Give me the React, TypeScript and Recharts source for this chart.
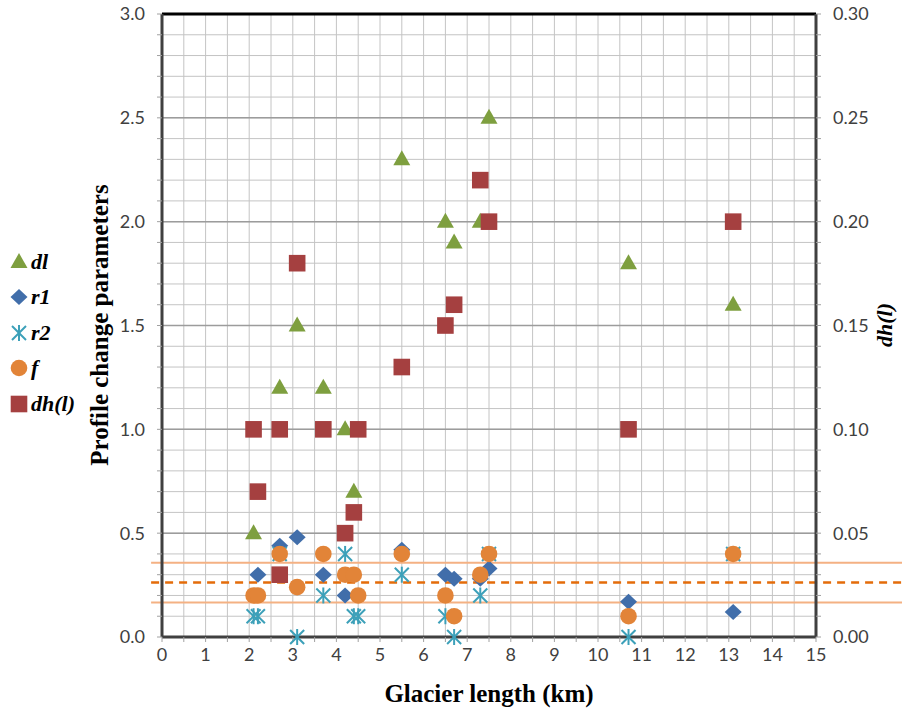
import React from 'react';
import {
  ScatterChart,
  Scatter,
  XAxis,
  YAxis,
  CartesianGrid,
  ReferenceLine
} from 'recharts';

// glacier lengths (km) and values per parameter
const dlLength = [2.1, 2.7, 3.1, 3.7, 4.2, 4.4, 5.5, 6.5, 6.7, 7.3, 7.5, 10.7, 13.1];
const dlValue = [0.5, 1.2, 1.5, 1.2, 1.0, 0.7, 2.3, 2.0, 1.9, 2.0, 2.5, 1.8, 1.6];

const r1Length = [2.2, 2.7, 3.1, 3.7, 4.2, 5.5, 6.5, 6.7, 7.3, 7.5, 10.7, 13.1];
const r1Value = [0.3, 0.44, 0.48, 0.3, 0.2, 0.42, 0.3, 0.28, 0.28, 0.33, 0.17, 0.12];

const r2Length = [2.1, 2.2, 2.7, 3.1, 3.7, 4.2, 4.4, 4.5, 5.5, 6.5, 6.7, 7.3, 7.5, 10.7, 13.1];
const r2Value = [0.1, 0.1, 0.4, 0.0, 0.2, 0.4, 0.1, 0.1, 0.3, 0.1, 0.0, 0.2, 0.4, 0.0, 0.4];

const fLength = [2.1, 2.2, 2.7, 3.1, 3.7, 4.2, 4.4, 4.5, 5.5, 6.5, 6.7, 7.3, 7.5, 10.7, 13.1];
const fValue = [0.2, 0.2, 0.4, 0.24, 0.4, 0.3, 0.3, 0.2, 0.4, 0.2, 0.1, 0.3, 0.4, 0.1, 0.4];

const dhLength = [2.1, 2.2, 2.7, 2.7, 3.1, 3.7, 4.2, 4.4, 4.5, 5.5, 6.5, 6.7, 7.3, 7.5, 10.7, 13.1];
const dhValue = [0.1, 0.07, 0.1, 0.03, 0.18, 0.1, 0.05, 0.06, 0.1, 0.13, 0.15, 0.16, 0.22, 0.2, 0.1, 0.2];

// f mean and +/- band
const fMean = 0.263;
const fBand = [0.166, 0.358];

// ticks
const xTicks = [0, 0.5, 1, 1.5, 2, 2.5, 3, 3.5, 4, 4.5, 5, 5.5, 6, 6.5, 7, 7.5, 8, 8.5, 9, 9.5, 10, 10.5, 11, 11.5, 12, 12.5, 13, 13.5, 14, 14.5, 15];
const leftTicks = [0, 0.1, 0.2, 0.3, 0.4, 0.5, 0.6, 0.7, 0.8, 0.9, 1, 1.1, 1.2, 1.3, 1.4, 1.5, 1.6, 1.7, 1.8, 1.9, 2, 2.1, 2.2, 2.3, 2.4, 2.5, 2.6, 2.7, 2.8, 2.9, 3];
const rightTicks = [0, 0.01, 0.02, 0.03, 0.04, 0.05, 0.06, 0.07, 0.08, 0.09, 0.1, 0.11, 0.12, 0.13, 0.14, 0.15, 0.16, 0.17, 0.18, 0.19, 0.2, 0.21, 0.22, 0.23, 0.24, 0.25, 0.26, 0.27, 0.28, 0.29, 0.3];
const majorLines = [0.5, 1, 1.5, 2, 2.5];

const toPoints = (xs: number[], ys: number[]) => xs.map((x, i) => ({ x, y: ys[i] }));

const colors = {
  dl: '#7e9f3f',
  r1: '#416eaa',
  r2: '#3ca0b9',
  f: '#e28438',
  dh: '#a54040',
  band: '#f4b183',
  mean: '#e46c0a'
};

const tickStyle = { fill: '#404040', fontSize: 18, fontFamily: 'Lato' };

// markers
const Triangle = ({ cx, cy }: any) => (
  <polygon points={`${cx},${cy - 9} ${cx + 8.5},${cy + 6} ${cx - 8.5},${cy + 6}`} fill={colors.dl} />
);
const Diamond = ({ cx, cy }: any) => (
  <polygon points={`${cx},${cy - 8} ${cx + 8.5},${cy} ${cx},${cy + 8} ${cx - 8.5},${cy}`} fill={colors.r1} />
);
const Asterisk = ({ cx, cy }: any) => (
  <g stroke={colors.r2} strokeWidth={2}>
    <line x1={cx} y1={cy - 8} x2={cx} y2={cy + 8} />
    <line x1={cx - 7} y1={cy - 7} x2={cx + 7} y2={cy + 7} />
    <line x1={cx - 7} y1={cy + 7} x2={cx + 7} y2={cy - 7} />
  </g>
);
const Circle = ({ cx, cy }: any) => <circle cx={cx} cy={cy} r={8.3} fill={colors.f} />;
const Square = ({ cx, cy }: any) => (
  <rect x={cx - 8.3} y={cy - 8.3} width={16.6} height={16.6} fill={colors.dh} />
);

const legendItems = [
  { name: 'dl', Icon: Triangle },
  { name: 'r1', Icon: Diamond },
  { name: 'r2', Icon: Asterisk },
  { name: 'f', Icon: Circle },
  { name: 'dh(l)', Icon: Square }
];

const titleFont = {
  position: 'absolute' as const,
  whiteSpace: 'nowrap' as const,
  fontFamily: 'Liberation Serif',
  fontWeight: 'bold' as const,
  color: '#000'
};

export default function App() {
  return (
    <div style={{ position: 'absolute', left: 0, top: 0, width: 902, height: 713, background: '#fff' }}>
      <ScatterChart width={902} height={713} margin={{ top: 14, right: 0, bottom: 0, left: 0 }}>
        <CartesianGrid yAxisId="left" stroke="#c4c4c4" strokeWidth={1} />
        {majorLines.map((v) => (
          <ReferenceLine key={v} yAxisId="left" y={v} stroke="#9c9c9c" strokeWidth={1.5} />
        ))}
        <XAxis
          type="number"
          dataKey="x"
          domain={[0, 15]}
          ticks={xTicks}
          interval={0}
          height={76}
          tickSize={5}
          tickMargin={6}
          axisLine={{ stroke: '#404040', strokeWidth: 3 }}
          tickLine={{ stroke: '#a0a0a0' }}
          tick={tickStyle}
          tickFormatter={(v: number) => (Number.isInteger(v) ? String(v) : '')}
        />
        <YAxis
          yAxisId="left"
          type="number"
          dataKey="y"
          domain={[0, 3]}
          ticks={leftTicks}
          interval={0}
          width={162}
          tickSize={5}
          tickMargin={12}
          axisLine={{ stroke: '#404040', strokeWidth: 3 }}
          tickLine={{ stroke: '#a0a0a0' }}
          tick={tickStyle}
          tickFormatter={(v: number) => (Math.round(v * 10) % 5 === 0 ? v.toFixed(1) : '')}
        />
        <YAxis
          yAxisId="right"
          orientation="right"
          type="number"
          dataKey="y"
          domain={[0, 0.3]}
          ticks={rightTicks}
          interval={0}
          width={86}
          tickSize={5}
          tickMargin={12}
          axisLine={{ stroke: '#404040', strokeWidth: 3 }}
          tickLine={{ stroke: '#a0a0a0' }}
          tick={tickStyle}
          tickFormatter={(v: number) => (Math.round(v * 100) % 5 === 0 ? v.toFixed(2) : '')}
        />
        <ReferenceLine yAxisId="left" y={3} stroke="#000" strokeWidth={3} />
        {fBand.map((v) => (
          <ReferenceLine
            key={v}
            yAxisId="left"
            ifOverflow="visible"
            segment={[{ x: -0.25, y: v }, { x: 17.5, y: v }]}
            stroke={colors.band}
            strokeWidth={2}
          />
        ))}
        <ReferenceLine
          yAxisId="left"
          ifOverflow="visible"
          segment={[{ x: -0.25, y: fMean }, { x: 17.5, y: fMean }]}
          stroke={colors.mean}
          strokeWidth={2.5}
          strokeDasharray="8 6"
        />
        <Scatter name="dl" yAxisId="left" data={toPoints(dlLength, dlValue)} shape={Triangle} isAnimationActive={false} />
        <Scatter name="r1" yAxisId="left" data={toPoints(r1Length, r1Value)} shape={Diamond} isAnimationActive={false} />
        <Scatter name="r2" yAxisId="left" data={toPoints(r2Length, r2Value)} shape={Asterisk} isAnimationActive={false} />
        <Scatter name="f" yAxisId="left" data={toPoints(fLength, fValue)} shape={Circle} isAnimationActive={false} />
        <Scatter name="dh(l)" yAxisId="right" data={toPoints(dhLength, dhValue)} shape={Square} isAnimationActive={false} />
      </ScatterChart>

      {/* legend */}
      <div style={{ position: 'absolute', left: 8, top: 244 }}>
        {legendItems.map(({ name, Icon }) => (
          <div key={name} style={{ display: 'flex', alignItems: 'center', height: 35.5 }}>
            <svg width={22} height={22}>
              <Icon cx={11} cy={11} />
            </svg>
            <span
              style={{
                marginLeft: 1,
                fontFamily: 'Liberation Serif',
                fontWeight: 'bold',
                fontStyle: 'italic',
                fontSize: 22,
                color: '#000'
              }}
            >
              {name}
            </span>
          </div>
        ))}
      </div>

      {/* axis titles */}
      <div style={{ ...titleFont, left: 100, top: 325, fontSize: 25, transform: 'translate(-50%, -50%) rotate(-90deg)' }}>
        Profile change parameters
      </div>
      <div style={{ ...titleFont, left: 489, top: 694, fontSize: 25, transform: 'translate(-50%, -50%)' }}>
        Glacier length (km)
      </div>
      <div
        style={{
          ...titleFont,
          left: 885,
          top: 325,
          fontSize: 22,
          fontStyle: 'italic',
          transform: 'translate(-50%, -50%) rotate(-90deg)'
        }}
      >
        dh(l)
      </div>
    </div>
  );
}
